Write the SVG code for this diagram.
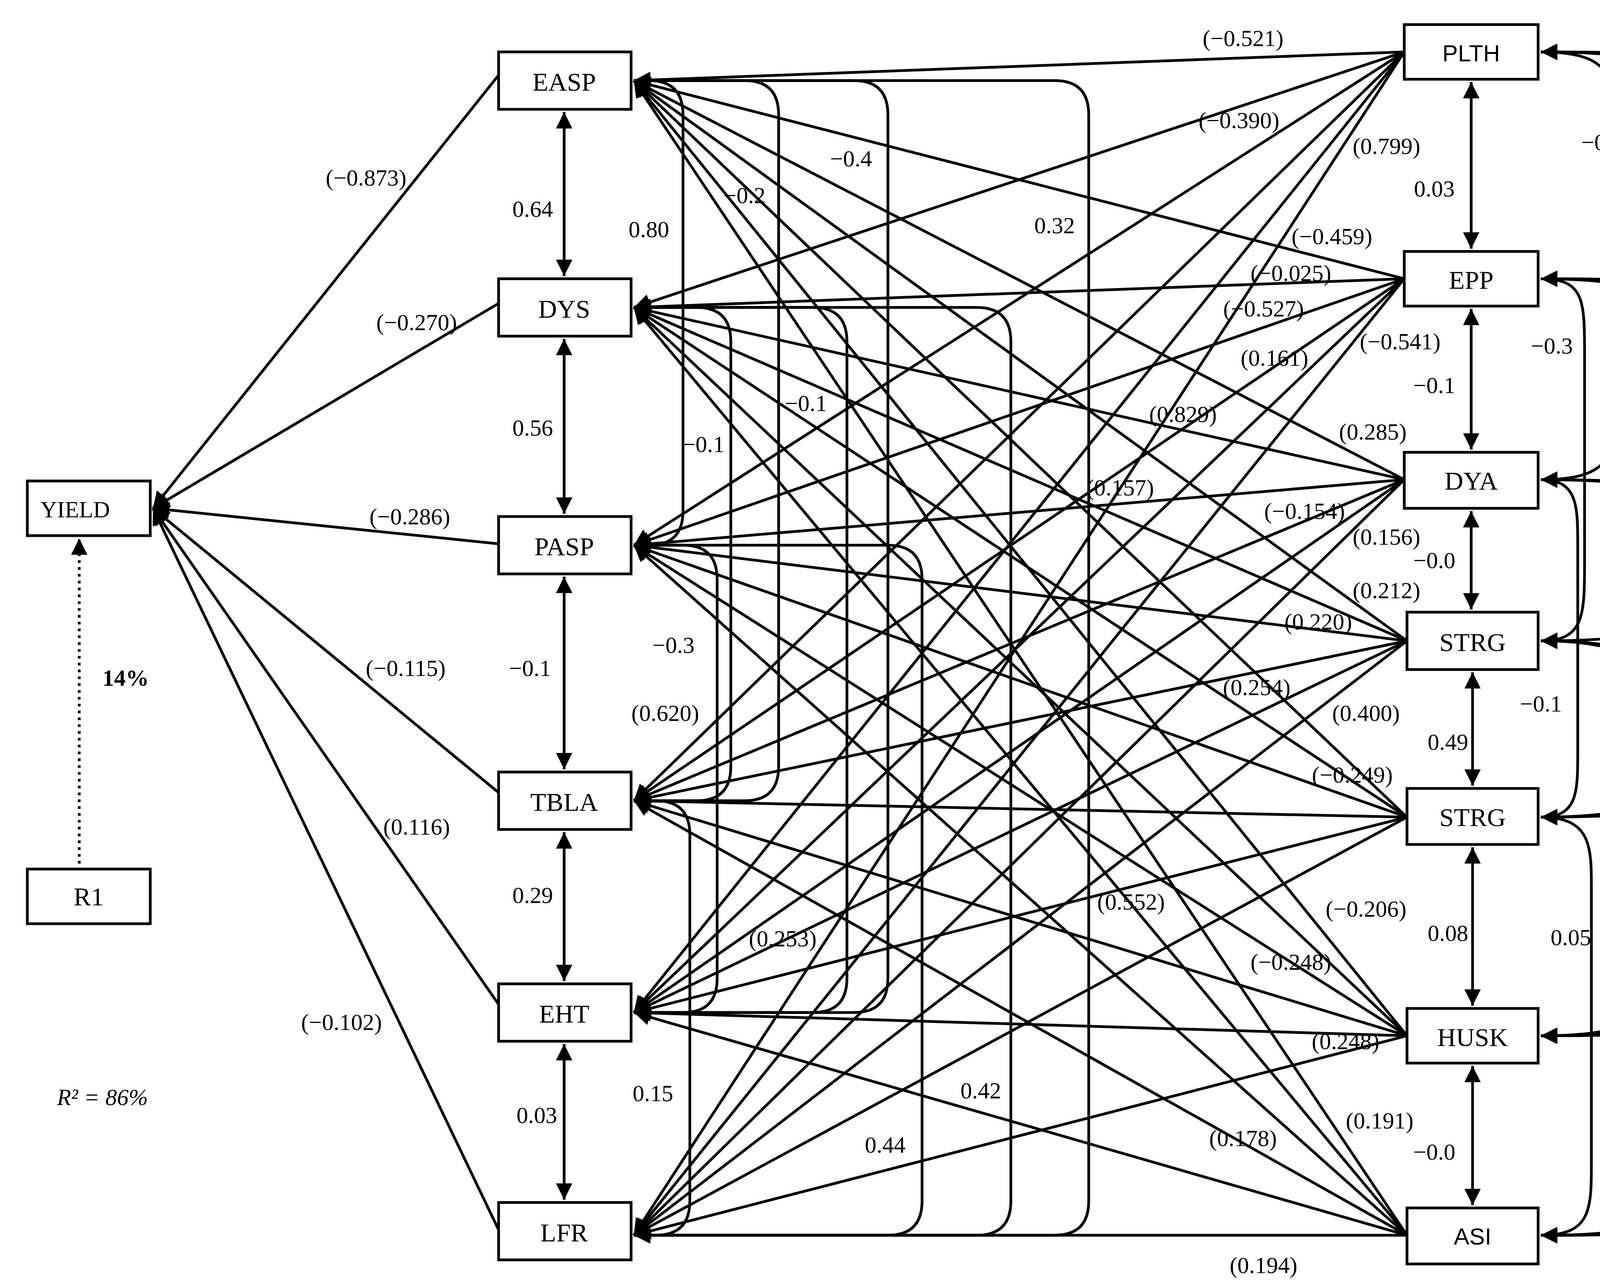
<svg xmlns="http://www.w3.org/2000/svg" width="5452" height="3286" viewBox="0 0 5452 3286">
<style>
.b{fill:#fff;stroke:#000;stroke-width:2}
.t{font-family:"Liberation Serif",serif;font-size:19px;text-anchor:middle;dominant-baseline:central;fill:#000}
.s{font-family:"Liberation Sans",sans-serif;font-size:17px}
.l{font-family:"Liberation Serif",serif;font-size:17px;text-anchor:middle;dominant-baseline:central;fill:#000}
#connectors path{fill:none;stroke:#000;stroke-width:2;marker-end:url(#a)}
#connectors path.c{marker-start:url(#a)}
</style>
<defs><marker id="a" viewBox="0 0 10 10" refX="10" refY="5" markerWidth="6" markerHeight="6" orient="auto-start-reverse"><path d="M0,0L10,5L0,10z"/></marker></defs>
<rect width="5452" height="3286" fill="#fff"/>
<g transform="scale(3.497)">
<g id="connectors">
<path d="M365,55L112,372"/><path d="M365,222L112,372"/><path d="M365,398L112,372"/><path d="M365,580L112,372"/><path d="M365,735L112,372"/><path d="M365,900L112,372"/>
<path d="M58,632V394" stroke-dasharray="2,3"/>
<path class="c" d="M413,82V202"/><path class="c" d="M413,248V376"/><path class="c" d="M413,422V563"/><path class="c" d="M413,609V718"/><path class="c" d="M413,764V878"/>
<path class="c" d="M1077,60V182"/><path class="c" d="M1077,226V329"/><path class="c" d="M1077,374V446"/><path class="c" d="M1078,492V575"/><path class="c" d="M1078,620V736"/><path class="c" d="M1078,780V882"/>
<path d="M1028,38L464,59"/><path d="M1028,38L464,225"/><path d="M1028,38L464,399"/><path d="M1028,38L464,586"/><path d="M1028,38L464,741"/><path d="M1028,38L464,904"/>
<path d="M1028,204L464,59"/><path d="M1028,204L464,225"/><path d="M1028,204L464,399"/><path d="M1028,204L464,586"/><path d="M1028,204L464,741"/><path d="M1028,204L464,904"/>
<path d="M1028,351L464,59"/><path d="M1028,351L464,225"/><path d="M1028,351L464,399"/><path d="M1028,351L464,586"/><path d="M1028,351L464,741"/><path d="M1028,351L464,904"/>
<path d="M1030,469L464,59"/><path d="M1030,469L464,225"/><path d="M1030,469L464,399"/><path d="M1030,469L464,586"/><path d="M1030,469L464,741"/><path d="M1030,469L464,904"/>
<path d="M1030,598L464,59"/><path d="M1030,598L464,225"/><path d="M1030,598L464,399"/><path d="M1030,598L464,586"/><path d="M1030,598L464,741"/><path d="M1030,598L464,904"/>
<path d="M1030,758L464,59"/><path d="M1030,758L464,225"/><path d="M1030,758L464,399"/><path d="M1030,758L464,586"/><path d="M1030,758L464,741"/><path d="M1030,758L464,904"/>
<path d="M1030,904L464,59"/><path d="M1030,904L464,225"/><path d="M1030,904L464,399"/><path d="M1030,904L464,586"/><path d="M1030,904L464,741"/><path d="M1030,904L464,904"/>
<path class="c" d="M464,59H475Q500,59 500,84V374Q500,399 475,399H464"/>
<path class="c" d="M464,59H545Q570,59 570,84V561Q570,586 545,586H464"/>
<path class="c" d="M464,59H625Q650,59 650,84V716Q650,741 625,741H464"/>
<path class="c" d="M464,59H772Q797,59 797,84V879Q797,904 772,904H464"/>
<path class="c" d="M464,225H510Q535,225 535,250V561Q535,586 510,586H464"/>
<path class="c" d="M464,225H595Q620,225 620,250V716Q620,741 595,741H464"/>
<path class="c" d="M464,225H715Q740,225 740,250V879Q740,904 715,904H464"/>
<path class="c" d="M464,399H500Q525,399 525,424V716Q525,741 500,741H464"/>
<path class="c" d="M464,399H650Q675,399 675,424V879Q675,904 650,904H464"/>
<path class="c" d="M464,586H480Q505,586 505,611V879Q505,904 480,904H464"/>
<path class="c" d="M1128,38C1185,38 1185,60 1185,120V270C1185,330 1185,351 1128,351"/>
<path class="c" d="M1128,38C1285,38 1285,80 1285,160V350C1285,430 1285,469 1128,469"/>
<path class="c" d="M1128,38C1345,38 1345,90 1345,180V460C1345,550 1345,598 1128,598"/>
<path class="c" d="M1128,38C1440,38 1440,100 1440,200V600C1440,700 1440,758 1128,758"/>
<path class="c" d="M1128,38C1530,38 1530,110 1530,220V720C1530,840 1530,904 1128,904"/>
<path class="c" d="M1128,204C1160,204 1160,220 1160,260V410C1160,450 1160,469 1128,469"/>
<path class="c" d="M1128,204C1250,204 1250,240 1250,300V500C1250,560 1250,598 1128,598"/>
<path class="c" d="M1128,204C1420,204 1420,260 1420,340V620C1420,710 1420,758 1128,758"/>
<path class="c" d="M1128,204C1500,204 1500,270 1500,360V740C1500,840 1500,904 1128,904"/>
<path class="c" d="M1128,351C1155,351 1155,370 1155,400V550C1155,580 1155,598 1128,598"/>
<path class="c" d="M1128,351C1285,351 1285,390 1285,450V660C1285,720 1285,758 1128,758"/>
<path class="c" d="M1128,351C1390,351 1390,410 1390,490V760C1390,850 1390,904 1128,904"/>
<path class="c" d="M1128,469C1215,469 1215,500 1215,540V690C1215,735 1215,758 1128,758"/>
<path class="c" d="M1128,469C1245,469 1245,510 1245,560V830C1245,880 1245,904 1128,904"/>
<path class="c" d="M1128,598C1165,598 1165,620 1165,650V850C1165,885 1165,904 1128,904"/>
</g>
<g id="YIELD"><rect class="b" x="20" y="352" width="90" height="40"/><text class="t" x="55" y="373" style="font-size:17px">YIELD</text></g>
<g id="R1"><rect class="b" x="20" y="636" width="90" height="40"/><text class="t" x="65" y="656">R1</text></g>
<g id="EASP"><rect class="b" x="365" y="38" width="97" height="42"/><text class="t" x="413" y="60">EASP</text></g>
<g id="DYS"><rect class="b" x="365" y="204" width="97" height="42"/><text class="t" x="413" y="226">DYS</text></g>
<g id="PASP"><rect class="b" x="365" y="378" width="97" height="42"/><text class="t" x="413" y="400">PASP</text></g>
<g id="TBLA"><rect class="b" x="365" y="565" width="97" height="42"/><text class="t" x="413" y="587">TBLA</text></g>
<g id="EHT"><rect class="b" x="365" y="720" width="97" height="42"/><text class="t" x="413" y="742">EHT</text></g>
<g id="LFR"><rect class="b" x="365" y="880" width="97" height="42"/><text class="t" x="413" y="902">LFR</text></g>
<g id="PLTH"><rect class="b" x="1028" y="18" width="98" height="40"/><text class="t s" x="1077" y="39">PLTH</text></g>
<g id="EPP"><rect class="b" x="1028" y="184" width="98" height="40"/><text class="t" x="1077" y="205">EPP</text></g>
<g id="DYA"><rect class="b" x="1028" y="331" width="98" height="41"/><text class="t" x="1077" y="352">DYA</text></g>
<g id="STRG1"><rect class="b" x="1030" y="448" width="96" height="42"/><text class="t" x="1078" y="470">STRG</text></g>
<g id="STRG2"><rect class="b" x="1030" y="577" width="96" height="41"/><text class="t" x="1078" y="598">STRG</text></g>
<g id="HUSK"><rect class="b" x="1030" y="738" width="96" height="40"/><text class="t" x="1078" y="759">HUSK</text></g>
<g id="ASI"><rect class="b" x="1030" y="884" width="96" height="41"/><text class="t s" x="1078" y="905">ASI</text></g>
<g id="labels">
<text class="l" x="910" y="28">(−0.521)</text><text class="l" x="907" y="88">(−0.390)</text><text class="l" x="1015" y="107">(0.799)</text>
<text class="l" x="1050" y="138">0.03</text><text class="l" x="975" y="173">(−0.459)</text><text class="l" x="945" y="200">(−0.025)</text>
<text class="l" x="925" y="226">(−0.527)</text><text class="l" x="933" y="262">(0.161)</text><text class="l" x="1025" y="250">(−0.541)</text>
<text class="l" x="1050" y="282">−0.1</text><text class="l" x="866" y="303">(0.829)</text><text class="l" x="1005" y="316">(0.285)</text>
<text class="l" x="820" y="357">(0.157)</text><text class="l" x="955" y="374">(−0.154)</text><text class="l" x="1015" y="393">(0.156)</text>
<text class="l" x="1050" y="410">−0.0</text><text class="l" x="1015" y="432">(0.212)</text><text class="l" x="965" y="455">(0.220)</text>
<text class="l" x="920" y="503">(0.254)</text><text class="l" x="1000" y="522">(0.400)</text><text class="l" x="1060" y="543">0.49</text>
<text class="l" x="990" y="567">(−0.249)</text><text class="l" x="1000" y="665">(−0.206)</text><text class="l" x="1060" y="683">0.08</text>
<text class="l" x="945" y="704">(−0.248)</text><text class="l" x="985" y="762">(0.248)</text><text class="l" x="1010" y="820">(0.191)</text>
<text class="l" x="910" y="833">(0.178)</text><text class="l" x="1050" y="843">−0.0</text><text class="l" x="925" y="926">(0.194)</text>
<text class="l" x="828" y="660">(0.552)</text><text class="l" x="573" y="687">(0.253)</text><text class="l" x="487" y="522">(0.620)</text>
<text class="l" x="493" y="472">−0.3</text><text class="l" x="388" y="489">−0.1</text><text class="l" x="390" y="655">0.29</text>
<text class="l" x="393" y="816">0.03</text><text class="l" x="390" y="153">0.64</text><text class="l" x="390" y="313">0.56</text>
<text class="l" x="268" y="130">(−0.873)</text><text class="l" x="305" y="236">(−0.270)</text><text class="l" x="300" y="378">(−0.286)</text>
<text class="l" x="297" y="489">(−0.115)</text><text class="l" x="305" y="605">(0.116)</text><text class="l" x="250" y="748">(−0.102)</text>
<text class="l" x="92" y="496" font-weight="bold">14%</text>
<text class="l" x="75" y="803" font-style="italic">R² = 86%</text>
<text class="l" x="475" y="168">0.80</text><text class="l" x="545" y="143">−0.2</text><text class="l" x="623" y="116">−0.4</text>
<text class="l" x="772" y="165">0.32</text><text class="l" x="515" y="325">−0.1</text><text class="l" x="590" y="295">−0.1</text>
<text class="l" x="478" y="800">0.15</text><text class="l" x="648" y="838">0.44</text><text class="l" x="718" y="798">0.42</text>
<text class="l" x="1173" y="104">−0.3</text><text class="l" x="1268" y="150">0.17</text><text class="l" x="1330" y="163">−0.1</text>
<text class="l" x="1438" y="183">−0.0</text><text class="l" x="1520" y="144">−0.0</text><text class="l" x="1136" y="253">−0.3</text>
<text class="l" x="1230" y="296">−0.1</text><text class="l" x="1397" y="312">0.03</text><text class="l" x="1468" y="366">−0.5</text>
<text class="l" x="1128" y="515">−0.1</text><text class="l" x="1190" y="553">0.02</text><text class="l" x="1283" y="622">−0.001</text>
<text class="l" x="1150" y="686">0.05</text><text class="l" x="1225" y="808">0.02</text><text class="l" x="1352" y="789">0.04</text>
</g>
</g>
</svg>
